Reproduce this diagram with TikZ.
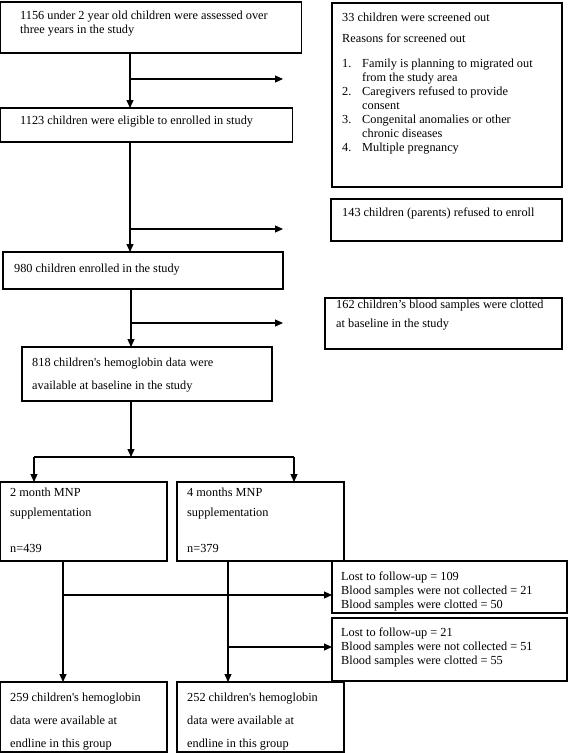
\documentclass[tikz,border=0pt]{standalone}
\usepackage{fontspec}
\setmainfont{Liberation Serif}
\usetikzlibrary{arrows.meta}
\newcommand\ml[1]{\begin{tabular}[t]{@{}l@{}}#1\end{tabular}}
\newcommand\nb[1]{\makebox[20pt][l]{#1}}
\newcommand\sq{\textquotesingle}
\begin{document}
\begin{tikzpicture}[x=1pt,y=-1pt,
 box/.style={draw, line width=1.1pt, inner sep=0pt, outer sep=0pt, anchor=north west},
 txt/.style={anchor=base west, inner sep=0pt, font=\fontsize{12.3}{14}\selectfont},
 ln/.style={line width=1.1pt},
 arr/.style={line width=1.1pt, -{Triangle[length=8pt,width=7pt]}}]
\useasboundingbox (0,0) rectangle (568,753);
% boxes
\node[box, minimum width=301, minimum height=51] (b1) at (0.6,2) {};
\node[box, minimum width=230, minimum height=184] (s1) at (332,3) {};
\node[box, minimum width=292, minimum height=34] (b2) at (0.6,108) {};
\node[box, minimum width=231, minimum height=42] (s2) at (331,199) {};
\node[box, minimum width=280, minimum height=37] (b3) at (3,252) {};
\node[box, minimum width=237, minimum height=51] (s3) at (325,298) {};
\node[box, minimum width=250, minimum height=54] (b4) at (22,347) {};
\node[box, minimum width=166.4, minimum height=79] (g1) at (0.6,482) {};
\node[box, minimum width=167, minimum height=79] (g2) at (177,482) {};
\node[box, minimum width=235, minimum height=52] (s4) at (332,561) {};
\node[box, minimum width=235, minimum height=63] (s5) at (332,618) {};
\node[box, minimum width=166.4, minimum height=70] (e1) at (0.6,682) {};
\node[box, minimum width=167, minimum height=70] (e2) at (177,682) {};
% texts
\node[txt] (t1) at (20,19) {\ml{1156 under 2 year old children were assessed over\\three years in the study}};
\node[txt] (ts1a) at (342,21) {33 children were screened out};
\node[txt] (ts1b) at (342,42) {Reasons for screened out};
\node[txt] (ts1c) at (342,67) {\begin{tabular}[t]{@{}l@{}l@{}}
\nb{1.} & Family is planning to migrated out\\
 & from the study area\\
\nb{2.} & Caregivers refused to provide\\
 & consent\\
\nb{3.} & Congenital anomalies or other\\
 & chronic diseases\\
\nb{4.} & Multiple pregnancy\end{tabular}};
\node[txt] (t2) at (20,124) {1123 children were eligible to enrolled in study};
\node[txt] (ts2) at (342,216) {143 children (parents) refused to enroll};
\node[txt] (t3) at (14,272) {980 children enrolled in the study};
\node[txt, font=\fontsize{12.3}{19}\selectfont] (ts3) at (336,308) {\ml{162 children’s blood samples were clotted\\at baseline in the study}};
\node[txt, font=\fontsize{12.3}{23}\selectfont] (t4) at (32,366) {\ml{818 children\sq s hemoglobin data were\\available at baseline in the study}};
\node[txt, font=\fontsize{12.3}{20}\selectfont] (tg1) at (10,496) {\ml{2 month MNP\\supplementation\\[16pt]n=439}};
\node[txt, font=\fontsize{12.3}{20}\selectfont] (tg2) at (187,496) {\ml{4 months MNP\\supplementation\\[16pt]n=379}};
\node[txt] (ts4) at (341,580) {\ml{Lost to follow-up = 109\\Blood samples were not collected = 21\\Blood samples were clotted = 50}};
\node[txt] (ts5) at (341,636) {\ml{Lost to follow-up = 21\\Blood samples were not collected = 51\\Blood samples were clotted = 55}};
\node[txt, font=\fontsize{12.3}{23}\selectfont] (te1) at (10,701) {\ml{259 children\sq s hemoglobin\\data were available at\\endline in this group}};
\node[txt, font=\fontsize{12.3}{23}\selectfont] (te2) at (187,701) {\ml{252 children\sq s hemoglobin\\data were available at\\endline in this group}};
% connectors
\coordinate (c1) at (130,79);
\coordinate (c1e) at (283,79);
\draw[arr] (b1.south west -| c1) -- (b2.north west -| c1);
\draw[arr] (c1) -- (c1e);
\coordinate (c2) at (130,229);
\coordinate (c2e) at (283,229);
\draw[arr] (b2.south west -| c2) -- (b3.north west -| c2);
\draw[arr] (c2) -- (c2e);
\coordinate (c3) at (131,323);
\coordinate (c3e) at (283,323);
\draw[arr] (b3.south west -| c3) -- (b4.north west -| c3);
\draw[arr] (c3) -- (c3e);
\coordinate (sp) at (131,457);
\coordinate (spl) at (34,457);
\coordinate (spr) at (294,457);
\draw[arr] (b4.south west -| sp) -- (sp);
\draw[ln] (spl) -- (spr);
\draw[arr] (spl) -- (g1.north west -| spl);
\draw[arr] (spr) -- (g2.north west -| spr);
\coordinate (c4) at (63,595);
\coordinate (c5) at (228,647);
\draw[arr] (g1.south west -| c4) -- (e1.north west -| c4);
\draw[arr] (c4) -- (s4.west |- c4);
\draw[arr] (g2.south west -| c5) -- (e2.north west -| c5);
\draw[arr] (c5) -- (s5.west |- c5);
\end{tikzpicture}
\end{document}
